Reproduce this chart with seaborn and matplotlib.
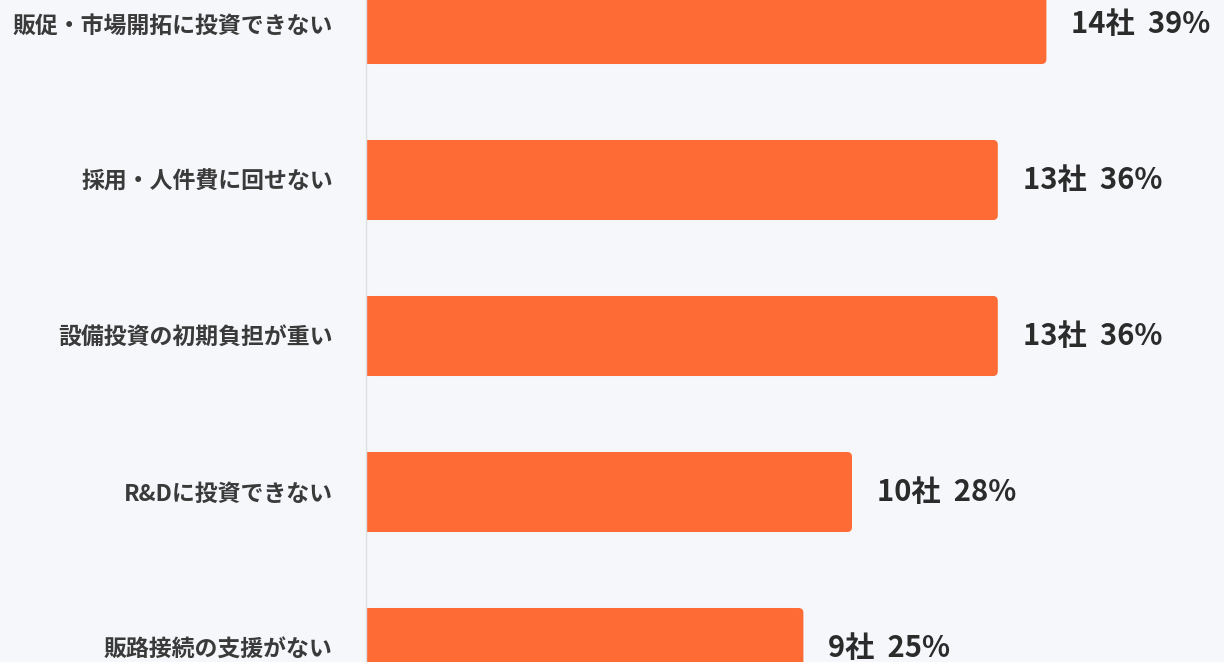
import seaborn as sns
import pandas as pd
import matplotlib.pyplot as plt
from matplotlib.patches import FancyBboxPatch, Rectangle

# data
labels = ["販促・市場開拓に投資できない", "採用・人件費に回せない", "設備投資の初期負担が重い",
          "R&Dに投資できない", "販路接続の支援がない"]
counts = [14, 13, 13, 10, 9]
percents = [39, 36, 36, 28, 25]

df = pd.DataFrame({"label": labels, "count": counts, "pct": percents})

sns.set_theme(style="white")
plt.rcParams['font.family'] = ['Noto Sans CJK JP', 'DejaVu Sans']

bg = "#f5f7fa"
orange = "#ff6b35"
fig = plt.figure(figsize=(12.24, 6.62), dpi=100, facecolor=bg)
ax = fig.add_axes([366 / 1224, 0, 1 - 366 / 1224, 1])
ax.set_facecolor(bg)

sns.barplot(data=df, x="count", y="label", color=orange, saturation=1,
            width=0.513, ax=ax)

# round the right-hand corners a little
for p in list(ax.patches):
    x0, y0, w, h = p.get_x(), p.get_y(), p.get_width(), p.get_height()
    p.set_visible(False)
    ax.add_patch(FancyBboxPatch((x0, y0), w, h, boxstyle="round,pad=0,rounding_size=0.1",
                                mutation_aspect=48.6 / 156, fc=orange, ec="none"))
    ax.add_patch(Rectangle((x0, y0), w - 0.3, h, fc=orange, ec="none"))

for i, (c, p) in enumerate(zip(counts, percents)):
    ax.annotate(f"{c}社  {p}%", (c, i), xytext=(18, 0), textcoords="offset points",
                va="center", ha="left", fontsize=21, fontweight="bold", color="#2b2b2b")

ax.set_xlim(0, 858 / 48.6)
ax.set_ylim(638 / 156, -24 / 156)
ax.set_xlabel("")
ax.set_ylabel("")
ax.set_xticks([])
ax.tick_params(axis="y", length=0, pad=24)
for t in ax.get_yticklabels():
    t.set_fontsize(16.5)
    t.set_fontweight("bold")
    t.set_color("#3a3a3a")

for s in ["top", "right", "bottom"]:
    ax.spines[s].set_visible(False)
ax.spines["left"].set_color("#dcdfe3")
ax.spines["left"].set_linewidth(1)

fig.savefig("out.png", dpi=100, facecolor=bg)
